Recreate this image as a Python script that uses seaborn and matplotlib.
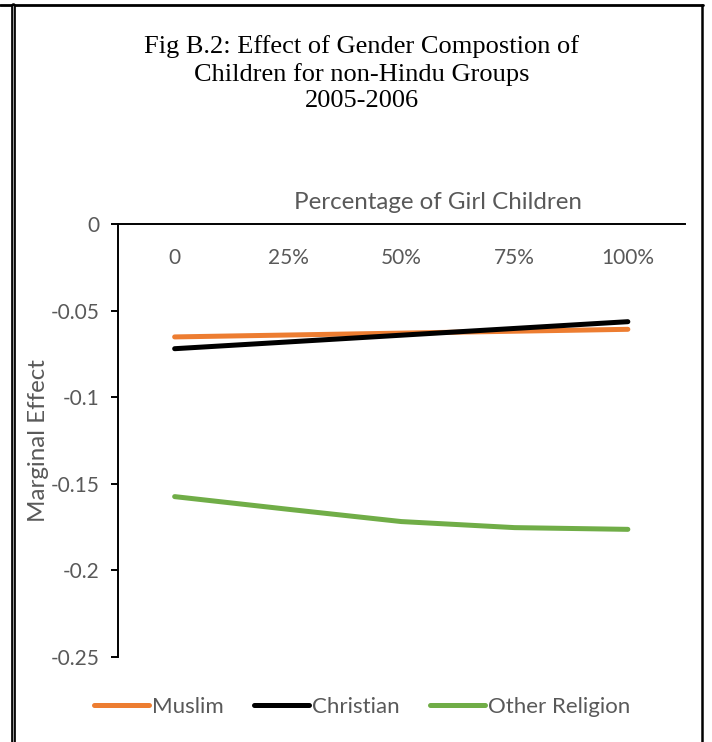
import matplotlib
matplotlib.use("Agg")
import matplotlib.pyplot as plt
from matplotlib.lines import Line2D
import seaborn as sns
import pandas as pd

# Share of girls among a household's children and the matching tick labels
girl_share = [0, 25, 50, 75, 100]
tick_labels = ["0", "25%", "50%", "75%", "100%"]

# Marginal effect by religious group
muslim = [-0.0652, -0.0641, -0.0630, -0.0619, -0.0608]
christian = [-0.0720, -0.0681, -0.0642, -0.0603, -0.0564]
other_religion = [-0.1574, -0.1647, -0.1718, -0.1753, -0.1763]

groups = ["Muslim", "Christian", "Other Religion"]
colors = ["#ED7D31", "#000000", "#70AD47"]

df = pd.DataFrame({
    "share": girl_share * 3,
    "effect": muslim + christian + other_religion,
    "group": [g for g in groups for _ in girl_share],
})

sns.set_style("white")
plt.rcParams["font.family"] = ["Lato", "DejaVu Sans"]

W, H = 712, 742
fig = plt.figure(figsize=(W / 100, H / 100), dpi=100)

def px(x0, y0, x1, y1):
    return [x0 / W, x1 / W], [1 - y0 / H, 1 - y1 / H]

ax = fig.add_axes([118 / W, 1 - 657 / H, 566.5 / W, 433 / H])

sns.lineplot(data=df, x="share", y="effect", hue="group", hue_order=groups,
             palette=colors, linewidth=3.6, solid_capstyle="round",
             legend=False, ax=ax)

gray = "#595959"
ax.set_xlim(-12.5, 112.5)
ax.set_ylim(-0.25, 0)
ax.set_yticks([0, -0.05, -0.1, -0.15, -0.2, -0.25])
ax.set_yticklabels(["0", "-0.05", "-0.1", "-0.15", "-0.2", "-0.25"])
ax.set_xticks(girl_share)
ax.set_xticklabels(tick_labels)

for side in ["right", "bottom"]:
    ax.spines[side].set_visible(False)
for side in ["left", "top"]:
    ax.spines[side].set_color("black")
    ax.spines[side].set_linewidth(1.4)

ax.xaxis.tick_top()
ax.xaxis.set_label_position("top")
ax.tick_params(axis="x", length=0, pad=-31.5, labelsize=15, labelcolor=gray)
ax.tick_params(axis="y", left=True, length=5, width=1.4, color="black",
               pad=8, labelsize=15, labelcolor=gray)

ax.set_xlabel("Percentage of Girl Children", fontsize=17.4, color=gray)
ax.xaxis.set_label_coords((438 - 118) / 566.5, 1 + 15 / 433)
ax.set_ylabel("Marginal Effect", fontsize=17.4, color=gray)
ax.yaxis.set_label_coords((49 - 118) / 566.5, 0.5)

fig.text(362 / W, 1 - 73.5 / H,
         "Fig B.2: Effect of Gender Compostion of\n"
         "Children for non-Hindu Groups\n2005-2006",
         ha="center", va="center", multialignment="center",
         fontsize=19, family="Liberation Serif", color="black",
         linespacing=1.26)

handles = [Line2D([], [], color=c, lw=3.6, solid_capstyle="round") for c in colors]
fig.legend(handles, groups, loc="center", bbox_to_anchor=(362 / W, 1 - 707 / H),
           ncol=3, frameon=False, fontsize=16, labelcolor=gray,
           handlelength=2.5, handletextpad=0.12, columnspacing=1.35)

# Outer frame
xs, ys = px(0, 5, 703, 5)
fig.add_artist(Line2D(xs, ys, color="black", lw=2.0))
xs, ys = px(702, 5, 702, H)
fig.add_artist(Line2D(xs, ys, color="black", lw=1.8))
xs, ys = px(12.5, 5, 12.5, H)
fig.add_artist(Line2D(xs, ys, color="black", lw=3.4))
xs, ys = px(12.5, 6, 12.5, H)
fig.add_artist(Line2D(xs, ys, color="#9a9a9a", lw=0.8))

fig.savefig("out.png", dpi=100)
